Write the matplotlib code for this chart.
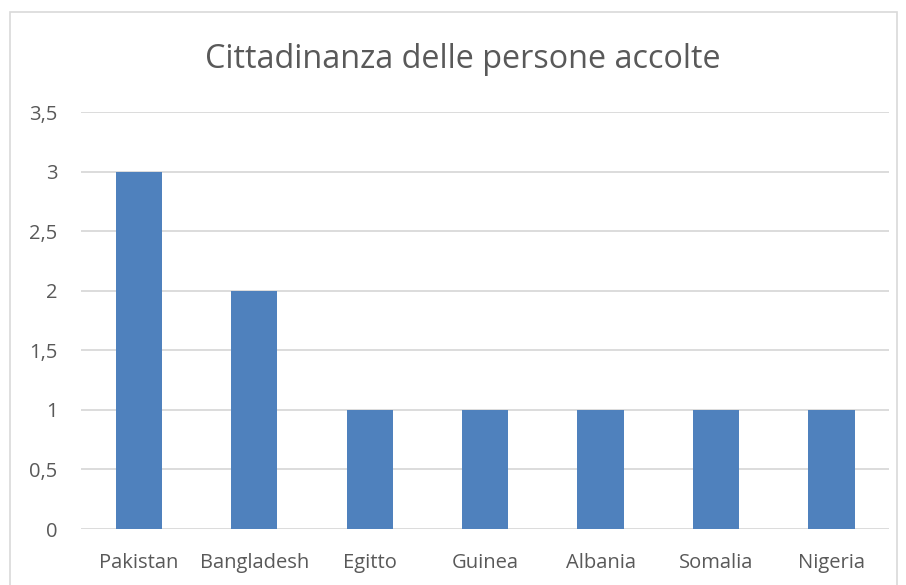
import matplotlib.pyplot as plt
from matplotlib.patches import Rectangle

countries = ["Pakistan", "Bangladesh", "Egitto", "Guinea", "Albania", "Somalia", "Nigeria"]
counts = [3, 2, 1, 1, 1, 1, 1]
yticks = [0, 0.5, 1, 1.5, 2, 2.5, 3, 3.5]
ytick_labels = ["0", "0,5", "1", "1,5", "2", "2,5", "3", "3,5"]

plt.rcParams['font.family'] = ['Open Sans', 'DejaVu Sans']
text_col = "#595959"

fig = plt.figure(figsize=(9.06, 5.85), dpi=100)
ax = fig.add_axes([0.0894, 0.0957, 0.892, 0.7128])

# outer chart border
fig.patches.append(Rectangle((10 / 906, -0.05), 887 / 906, 1.05 - 12 / 585,
                             transform=fig.transFigure, fill=False,
                             edgecolor="#D9D9D9", linewidth=1.2))

ax.bar(range(len(countries)), counts, width=0.4, color="#4F81BD", zorder=3)
ax.set_xlim(-0.5, len(countries) - 0.5)
ax.set_ylim(0, 3.5)
ax.set_yticks(yticks)
ax.set_yticklabels(ytick_labels)
ax.set_xticks(range(len(countries)))
ax.set_xticklabels(countries)
ax.tick_params(axis="both", length=0, labelsize=14.5, colors=text_col)
ax.tick_params(axis="y", pad=17)
ax.tick_params(axis="x", pad=17)
ax.grid(axis="y", color="#D9D9D9", linewidth=1.3, zorder=0)
for s in ax.spines.values():
    s.set_visible(False)

fig.text(0.511, 0.898, "Cittadinanza delle persone accolte", ha="center", va="center",
         fontsize=23.3, color=text_col)

fig.savefig("out.png", dpi=100)
